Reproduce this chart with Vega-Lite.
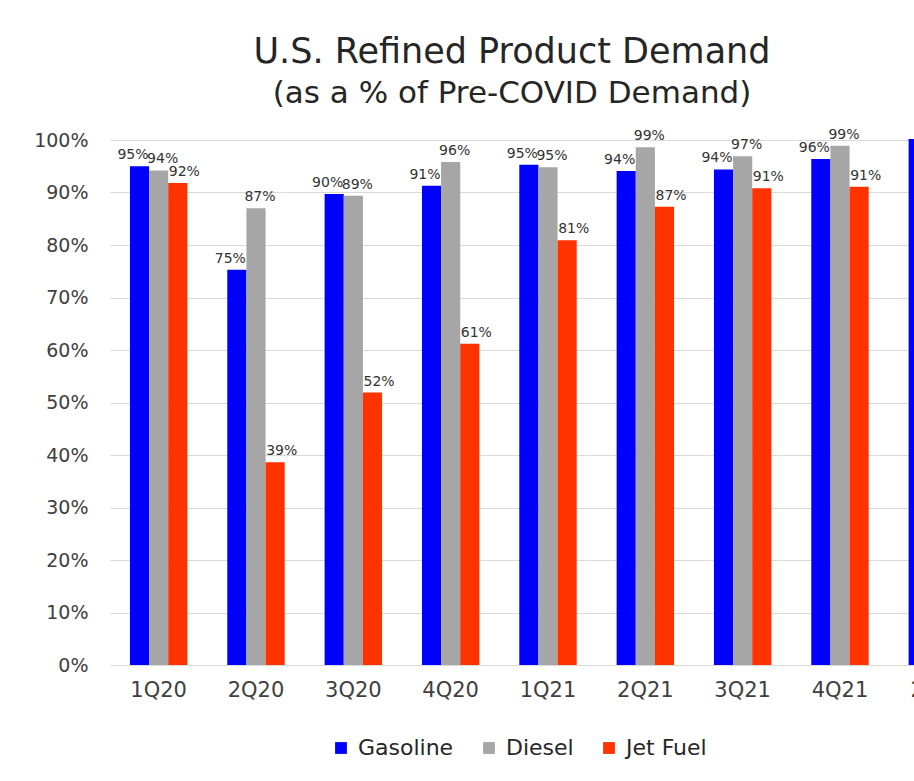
{
  "$schema": "https://vega.github.io/schema/vega-lite/v6.json",
  "width": 804,
  "height": 525,
  "autosize": {"type": "none"},
  "padding": {"left": 110, "top": 140, "right": 0, "bottom": 116},
  "background": "white",
  "title": {
    "text": "U.S. Refined Product Demand",
    "subtitle": "(as a % of Pre-COVID Demand)",
    "font": "DejaVu Sans",
    "fontSize": 35,
    "fontWeight": "normal",
    "color": "#262626",
    "subtitleFont": "DejaVu Sans",
    "subtitleFontSize": 31,
    "subtitleColor": "#262626",
    "subtitlePadding": 9,
    "anchor": "middle",
    "frame": "group",
    "offset": 19
  },
  "data": {
    "values": [
      {"quarter": "1Q20", "fuel": "Gasoline", "share": 0.950},
      {"quarter": "1Q20", "fuel": "Diesel", "share": 0.942},
      {"quarter": "1Q20", "fuel": "Jet Fuel", "share": 0.918},
      {"quarter": "2Q20", "fuel": "Gasoline", "share": 0.753},
      {"quarter": "2Q20", "fuel": "Diesel", "share": 0.870},
      {"quarter": "2Q20", "fuel": "Jet Fuel", "share": 0.386},
      {"quarter": "3Q20", "fuel": "Gasoline", "share": 0.897},
      {"quarter": "3Q20", "fuel": "Diesel", "share": 0.894},
      {"quarter": "3Q20", "fuel": "Jet Fuel", "share": 0.519},
      {"quarter": "4Q20", "fuel": "Gasoline", "share": 0.913},
      {"quarter": "4Q20", "fuel": "Diesel", "share": 0.958},
      {"quarter": "4Q20", "fuel": "Jet Fuel", "share": 0.612},
      {"quarter": "1Q21", "fuel": "Gasoline", "share": 0.953},
      {"quarter": "1Q21", "fuel": "Diesel", "share": 0.948},
      {"quarter": "1Q21", "fuel": "Jet Fuel", "share": 0.809},
      {"quarter": "2Q21", "fuel": "Gasoline", "share": 0.941},
      {"quarter": "2Q21", "fuel": "Diesel", "share": 0.986},
      {"quarter": "2Q21", "fuel": "Jet Fuel", "share": 0.873},
      {"quarter": "3Q21", "fuel": "Gasoline", "share": 0.944},
      {"quarter": "3Q21", "fuel": "Diesel", "share": 0.969},
      {"quarter": "3Q21", "fuel": "Jet Fuel", "share": 0.908},
      {"quarter": "4Q21", "fuel": "Gasoline", "share": 0.964},
      {"quarter": "4Q21", "fuel": "Diesel", "share": 0.989},
      {"quarter": "4Q21", "fuel": "Jet Fuel", "share": 0.911},
      {"quarter": "2022", "fuel": "Gasoline", "share": 1.002}
    ]
  },
  "encoding": {
    "x": {
      "field": "quarter",
      "type": "nominal",
      "sort": null,
      "scale": {"paddingInner": 0.41, "paddingOuter": 0.205, "range": [0, 876]},
      "axis": {
        "title": null,
        "labelAngle": 0,
        "labelFont": "DejaVu Sans",
        "labelFontSize": 21,
        "labelColor": "#404040",
        "labelPadding": 14,
        "domain": false,
        "ticks": false,
        "grid": false
      }
    },
    "xOffset": {
      "field": "fuel",
      "type": "nominal",
      "sort": ["Gasoline", "Diesel", "Jet Fuel"],
      "scale": {"paddingInner": 0, "paddingOuter": 0}
    },
    "y": {
      "field": "share",
      "type": "quantitative",
      "scale": {"domain": [0, 1], "nice": false},
      "axis": {
        "title": null,
        "format": ".0%",
        "values": [0, 0.1, 0.2, 0.3, 0.4, 0.5, 0.6, 0.7, 0.8, 0.9, 1.0],
        "labelFont": "DejaVu Sans",
        "labelFontSize": 19,
        "labelColor": "#404040",
        "labelPadding": 22,
        "domain": false,
        "ticks": false,
        "grid": true,
        "gridColor": "#d9d9d9",
        "gridWidth": 1.2
      }
    }
  },
  "layer": [
    {
      "mark": {"type": "bar"},
      "encoding": {
        "color": {
          "field": "fuel",
          "type": "nominal",
          "scale": {"domain": ["Gasoline", "Diesel", "Jet Fuel"], "range": ["#0000ff", "#a6a6a6", "#ff3300"]},
          "legend": {
            "title": null,
            "orient": "none",
            "legendX": 220,
            "legendY": 597,
            "direction": "horizontal",
            "symbolType": "square",
            "symbolSize": 140,
            "symbolStrokeWidth": 0,
            "labelFont": "DejaVu Sans",
            "labelFontSize": 22,
            "labelColor": "#262626",
            "labelOffset": 6,
            "columnPadding": 24
          }
        }
      }
    },
    {
      "transform": [{"filter": "datum.fuel === 'Gasoline' && datum.quarter !== '2022'"}],
      "mark": {"type": "text", "align": "right", "baseline": "bottom", "dx": 9, "dy": -4, "font": "DejaVu Sans", "fontSize": 14, "color": "#333333"},
      "encoding": {"text": {"field": "share", "format": ".0%"}}
    },
    {
      "transform": [{"filter": "datum.fuel === 'Diesel'"}],
      "mark": {"type": "text", "align": "center", "baseline": "bottom", "dx": 4, "dy": -4, "font": "DejaVu Sans", "fontSize": 14, "color": "#333333"},
      "encoding": {"text": {"field": "share", "format": ".0%"}}
    },
    {
      "transform": [{"filter": "datum.fuel === 'Jet Fuel'"}],
      "mark": {"type": "text", "align": "left", "baseline": "bottom", "dx": -9, "dy": -4, "font": "DejaVu Sans", "fontSize": 14, "color": "#333333"},
      "encoding": {"text": {"field": "share", "format": ".0%"}}
    }
  ],
  "config": {"view": {"stroke": null}}
}
